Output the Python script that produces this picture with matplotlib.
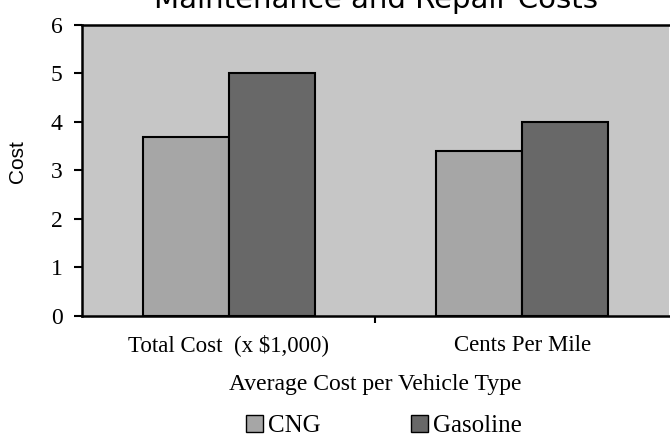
import numpy as np
import matplotlib
matplotlib.use("Agg")
import matplotlib.pyplot as plt
from matplotlib.patches import Patch

categories = ["Total Cost  (x $1,000)", "Cents Per Mile"]
series_names = ["CNG", "Gasoline"]
cng = [3.7, 3.4]
gasoline = [5.0, 4.0]
y_ticks = [0, 1, 2, 3, 4, 5, 6]

serif = "Liberation Serif"
cng_color = "#a6a6a6"
gas_color = "#686868"

fig = plt.figure(figsize=(6.7, 4.37), dpi=100)
ax = fig.add_axes([0.1224, 0.2769, 0.876, 0.6659])
ax.set_facecolor("#c6c6c6")

x = np.arange(len(categories))
w = 0.293
ax.bar(x - w / 2, cng, width=w, color=cng_color, edgecolor="black", linewidth=1.5, label=series_names[0])
ax.bar(x + w / 2, gasoline, width=w, color=gas_color, edgecolor="black", linewidth=1.5, label=series_names[1])

ax.set_xlim(-0.5, len(categories) - 0.5)
ax.set_ylim(0, 6)
ax.set_yticks(y_ticks)
ax.set_yticklabels([str(t) for t in y_ticks], fontfamily=serif, fontsize=17)
ax.set_xticks(x)
ax.set_xticklabels(categories, fontfamily=serif, fontsize=16.5, va="baseline")
ax.tick_params(axis="x", which="major", length=0, pad=25)
ax.set_xticks([0.5], minor=True)
ax.tick_params(axis="x", which="minor", length=5, width=1.5, direction="out")
ax.tick_params(axis="y", length=6, width=1.5, direction="out", pad=8)

for side in ["left", "bottom", "top"]:
    ax.spines[side].set_linewidth(1.8)
ax.spines["right"].set_visible(False)

ax.set_xlabel("Average Cost per Vehicle Type", fontfamily=serif, fontsize=17, labelpad=13.5)
ax.set_ylabel("Cost", fontfamily="Liberation Sans", fontsize=15)
ax.yaxis.set_label_coords(-0.094, 0.53)

fig.text(0.5605, 0.982, "Maintenance and Repair Costs", ha="center", va="baseline",
         fontfamily="DejaVu Sans", fontsize=21)

handles = [Patch(facecolor=cng_color, edgecolor="black", linewidth=1),
           Patch(facecolor=gas_color, edgecolor="black", linewidth=1)]
fig.legend(handles, series_names, loc="center", bbox_to_anchor=(0.573, 0.025), ncol=2,
           frameon=False, prop={"family": serif, "size": 18}, handlelength=0.7,
           handleheight=0.7, handletextpad=0.2, columnspacing=3.6)

fig.savefig("out.png", dpi=100)
